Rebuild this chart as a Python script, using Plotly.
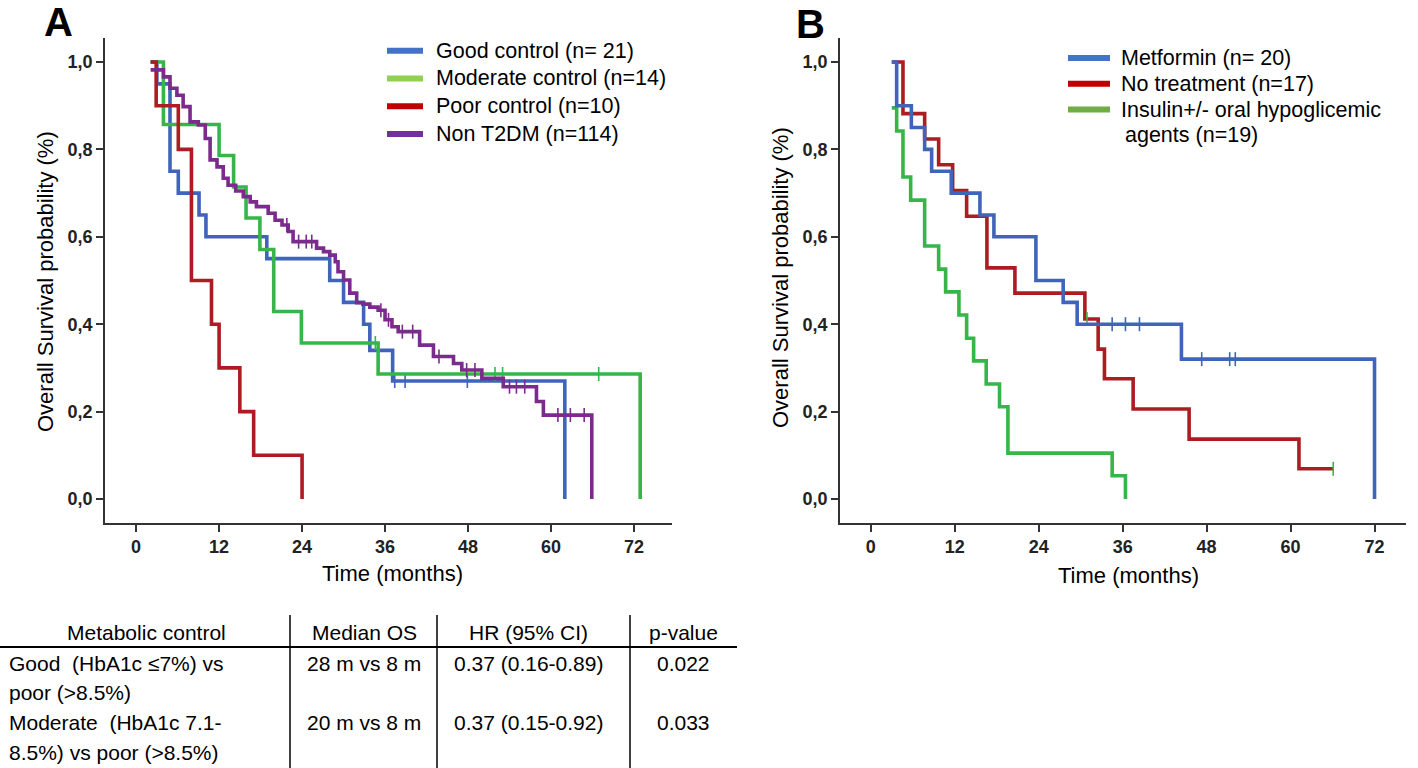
import numpy as np
import plotly.graph_objects as go

W, H = 1418, 768
FONT = "Liberation Sans, Arial, sans-serif"

# ---------------- Panel A data (time in months, survival probability) ----------------
good_t = [2.1, 3.0, 4.9, 6.1, 9.1, 10.1, 18.9, 28.0, 30.0, 32.9, 33.8, 37.1, 62.0]
good_s = [1.0, 0.95, 0.75, 0.70, 0.65, 0.60, 0.55, 0.50, 0.45, 0.40, 0.34, 0.27, 0.0]
good_cens = [37.4, 38.9, 47.9]

mod_t = [2.1, 3.95, 12.0, 14.1, 15.9, 17.9, 19.9, 23.9, 35.0, 72.9]
mod_s = [1.0, 0.857, 0.786, 0.714, 0.643, 0.571, 0.429, 0.357, 0.286, 0.0]
mod_cens = [34.6, 51.9, 53.0, 66.9]

poor_t = [2.1, 2.9, 6.1, 8.0, 10.9, 12.0, 15.0, 17.0, 24.0]
poor_s = [1.0, 0.9, 0.8, 0.5, 0.4, 0.3, 0.2, 0.1, 0.0]

non_t = [2.1, 3.95, 4.9, 5.9, 6.8, 7.8, 9.0, 10.0, 10.7, 11.7, 12.6, 13.3, 14.4, 15.5,
         16.5, 17.4, 19.1, 20.1, 21.1, 22.0, 22.7, 26.1, 27.1, 28.0, 28.8, 29.2, 30.0,
         30.9, 31.9, 32.8, 33.8, 35.0, 36.0, 37.0, 37.9, 41.0, 43.0, 45.9, 47.1, 50.0,
         53.1, 57.9, 58.9, 65.9]
non_s = [0.982, 0.966, 0.94, 0.924, 0.898, 0.863, 0.856, 0.825, 0.776, 0.760, 0.734,
         0.718, 0.705, 0.692, 0.680, 0.669, 0.654, 0.638, 0.627, 0.612, 0.589, 0.574,
         0.566, 0.558, 0.543, 0.52, 0.501, 0.471, 0.449, 0.446, 0.439, 0.432, 0.41,
         0.394, 0.383, 0.352, 0.326, 0.31, 0.295, 0.276, 0.257, 0.223, 0.192, 0.0]
non_cens = [21.8, 23.5, 24.6, 25.4, 35.4, 36.5, 38.5, 40.0, 43.8, 47.8, 49.0, 54.0,
            55.0, 56.2, 61.0, 62.8, 64.8]

# ---------------- Panel B data ----------------
met_t = [3.0, 3.7, 5.8, 7.7, 8.7, 11.5, 15.6, 17.6, 23.6, 27.5, 29.5, 44.4, 72.0]
met_s = [1.0, 0.90, 0.85, 0.80, 0.75, 0.70, 0.65, 0.60, 0.50, 0.45, 0.40, 0.32, 0.0]
met_cens = [34.5, 36.4, 38.4, 47.3, 51.3, 52.1]

notr_t = [3.0, 4.6, 7.7, 9.7, 11.7, 13.7, 16.6, 20.6, 30.6, 32.5, 33.4, 37.5, 45.5, 61.2, 66.1]
notr_s = [1.0, 0.882, 0.824, 0.765, 0.706, 0.647, 0.529, 0.471, 0.412, 0.343, 0.275,
          0.206, 0.137, 0.069, 0.069]
notr_cens = [30.9, 66.1]

ins_t = [3.0, 3.7, 4.6, 5.7, 7.7, 9.7, 10.7, 12.6, 13.7, 14.7, 16.5, 18.4, 19.6, 34.5, 36.4]
ins_s = [0.895, 0.842, 0.737, 0.684, 0.579, 0.526, 0.474, 0.421, 0.368, 0.316, 0.263,
         0.211, 0.105, 0.053, 0.0]

x_ticks = [0, 12, 24, 36, 48, 60, 72]
y_ticks = [0.0, 0.2, 0.4, 0.6, 0.8, 1.0]
y_ticktext = ["0,0", "0,2", "0,4", "0,6", "0,8", "1,0"]

legend_a = ["Good control (n= 21)", "Moderate control (n=14)", "Poor control (n=10)", "Non T2DM (n=114)"]
legend_b = ["Metformin (n= 20)", "No treatment (n=17)", "Insulin+/- oral hypoglicemic", "agents (n=19)"]

table_header = ["Metabolic control", "Median OS", "HR (95% CI)", "p-value"]
table_rows = [
    ["Good  (HbA1c \u22647%) vs", "28 m vs 8 m", "0.37 (0.16-0.89)", "0.022"],
    ["poor (>8.5%)", "", "", ""],
    ["Moderate  (HbA1c 7.1-", "20 m vs 8 m", "0.37 (0.15-0.92)", "0.033"],
    ["8.5%) vs poor (>8.5%)", "", "", ""],
]

BLUE, GREEN, RED, PURPLE = "#3F64BA", "#36B649", "#AD1C22", "#7B2B8B"
L_BLUE, L_GREEN, L_RED, L_PURPLE, L_GREEN_B = "#4472C4", "#92D050", "#C00000", "#7030A0", "#70AD47"

fig = go.Figure()


def step_at(t, s, q):
    idx = np.searchsorted(np.array(t), np.array(q), side="right") - 1
    return np.array(s)[np.clip(idx, 0, len(s) - 1)]


def add_curve(t, s, color, xa, ya, cens=None, cens_color=None):
    fig.add_trace(go.Scatter(x=t, y=s, mode="lines", line=dict(color=color, width=3.6, shape="hv"),
                             xaxis=xa, yaxis=ya, showlegend=False, hoverinfo="skip"))
    if cens:
        fig.add_trace(go.Scatter(x=cens, y=step_at(t, s, cens), mode="markers",
                                 marker=dict(symbol="line-ns", size=10,
                                             line=dict(color=cens_color or color, width=1.6)),
                                 xaxis=xa, yaxis=ya, showlegend=False, hoverinfo="skip"))


add_curve(good_t, good_s, BLUE, "x", "y", good_cens)
add_curve(mod_t, mod_s, GREEN, "x", "y", mod_cens)
add_curve(poor_t, poor_s, RED, "x", "y")
add_curve(non_t, non_s, PURPLE, "x", "y", non_cens)

add_curve(ins_t, ins_s, GREEN, "x2", "y2")
add_curve(notr_t, notr_s, RED, "x2", "y2", notr_cens, GREEN)
add_curve(met_t, met_s, BLUE, "x2", "y2", met_cens)


def px(x):
    return x / W


def py(y):
    return 1 - y / H


axis_common = dict(showline=True, linecolor="#333", linewidth=1.5, showgrid=False, zeroline=False,
                   ticks="outside", ticklen=7, tickwidth=1.5, tickcolor="#333",
                   tickfont=dict(family=FONT, size=18, color="#222", weight="bold"), fixedrange=True)

fig.update_layout(
    width=W, height=H, margin=dict(l=0, r=0, t=0, b=0),
    paper_bgcolor="white", plot_bgcolor="white", showlegend=False,
    xaxis=dict(domain=[px(105), px(672)], range=[-4.5, 77.5], tickvals=x_ticks, anchor="y", **axis_common),
    yaxis=dict(domain=[py(523), py(38)], range=[-0.055, 1.055], tickvals=y_ticks, ticktext=y_ticktext,
               anchor="x", **axis_common),
    xaxis2=dict(domain=[px(840), px(1406)], range=[-4.4, 76.5], tickvals=x_ticks, anchor="y2", **axis_common),
    yaxis2=dict(domain=[py(523), py(38)], range=[-0.055, 1.055], tickvals=y_ticks, ticktext=y_ticktext,
                anchor="x2", **axis_common),
)

ann = []


def text(x, y, s, size=20, anchor="center", bold=False, angle=0):
    ann.append(dict(x=px(x), y=py(y), xref="paper", yref="paper", text=s, showarrow=False,
                    xanchor=anchor, yanchor="middle", textangle=angle,
                    font=dict(family=FONT, size=size, color="black", weight="bold" if bold else "normal")))


# panel letters
text(58, 22, "A", size=40, bold=True)
text(810, 24, "B", size=40, bold=True)

# axis titles
text(45, 282, "Overall Survival probability (%)", size=22, angle=-90)
text(392, 573, "Time (months)", size=22)
text(780, 278, "Overall Survival probability (%)", size=22, angle=-90)
text(1128, 575, "Time (months)", size=22)

shapes = []


def hline(x0, x1, y, color, width):
    shapes.append(dict(type="line", xref="paper", yref="paper", x0=px(x0), x1=px(x1), y0=py(y), y1=py(y),
                       line=dict(color=color, width=width)))


def vline(x, y0, y1, color, width):
    shapes.append(dict(type="line", xref="paper", yref="paper", x0=px(x), x1=px(x), y0=py(y0), y1=py(y1),
                       line=dict(color=color, width=width)))


# legend A
for i, (lab, col) in enumerate(zip(legend_a, [L_BLUE, L_GREEN, L_RED, L_PURPLE])):
    y = 50.7 + i * 27.8
    hline(387, 423, y, col, 6)
    text(434, y, lab, size=21.5, anchor="left")

# legend B
for i, (lab, col) in enumerate(zip(legend_b[:3], [L_BLUE, L_RED, L_GREEN_B])):
    y = 58 + i * 25.8
    hline(1068, 1110, y, col, 6)
    text(1119, y, lab, size=21.5, anchor="left")
text(1123, 135, legend_b[3], size=21.5, anchor="left")

# table
col_centers = [146, 364, 528, 683]
for c, h in zip(col_centers, table_header):
    text(c, 632, h, size=21)
hline(0, 737, 647, "black", 2)
for xs in [290, 437, 630]:
    vline(xs, 615, 768, "black", 1.5)
row_y = [663, 692, 722, 752]
for ry, row in zip(row_y, table_rows):
    text(7, ry, row[0], size=21, anchor="left")
    for c, v in zip(col_centers[1:], row[1:]):
        if v:
            text(c, ry, v, size=21)

fig.update_layout(annotations=ann, shapes=shapes)
fig.write_html("out.html", config={"displayModeBar": False},
               post_script="document.body.style.margin='0';document.body.style.overflow='hidden';")
